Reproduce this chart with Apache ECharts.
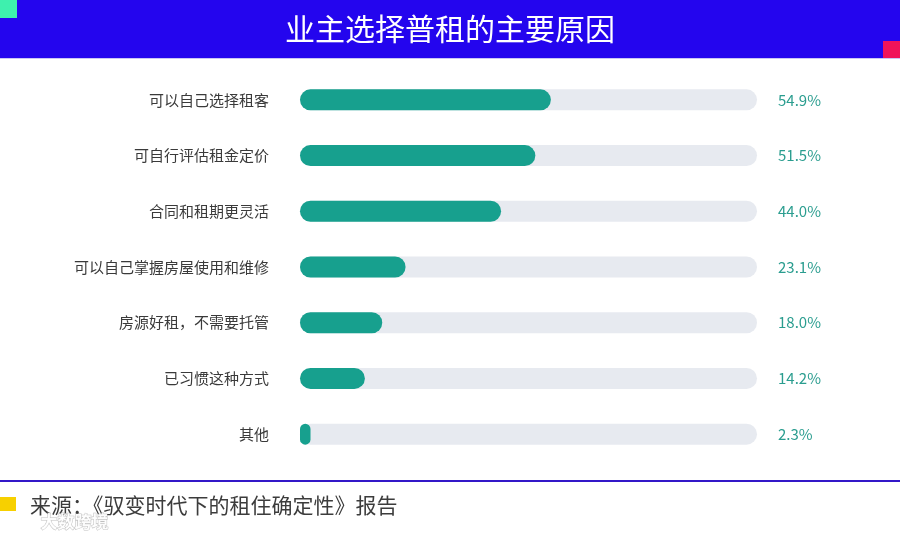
<!DOCTYPE html>
<html>
<head>
<meta charset="utf-8">
<script src="https://cdn.jsdelivr.net/npm/echarts@6/dist/echarts.min.js"></script>
<style>
  html, body { margin: 0; padding: 0; background: #fff; }
  #main { width: 900px; height: 537px; }
</style>
</head>
<body>
<div id="main"></div>
<script>
// 业主选择普租的主要原因
var reasons = ['可以自己选择租客', '可自行评估租金定价', '合同和租期更灵活', '可以自己掌握房屋使用和维修', '房源好租，不需要托管', '已习惯这种方式', '其他'];
var shares = [54.9, 51.5, 44.0, 23.1, 18.0, 14.2, 2.3];
var shareLabels = ['54.9%', '51.5%', '44.0%', '23.1%', '18.0%', '14.2%', '2.3%'];

var titleText = '业主选择普租的主要原因';
var sourceText = '来源：《驭变时代下的租住确定性》报告';

var font = '"Noto Sans CJK SC", "Noto Sans", sans-serif';
var myChart = echarts.init(document.getElementById('main'));
var option = {
    backgroundColor: '#ffffff',
    animation: false,
    grid: {
        left: 300,
        right: 143,
        top: 72,
        bottom: 75
    },
    xAxis: {
        type: 'value',
        min: 0,
        max: 100,
        show: false
    },
    yAxis: [
        {
            type: 'category',
            inverse: true,
            data: reasons,
            axisLine: {show: false},
            axisTick: {show: false},
            axisLabel: {
                margin: 31,
                fontSize: 15,
                color: '#3a3a3a',
                fontFamily: font
            }
        },
        {
            type: 'category',
            inverse: true,
            position: 'right',
            data: shareLabels,
            axisLine: {show: false},
            axisTick: {show: false},
            axisLabel: {
                margin: 21,
                fontSize: 15,
                color: '#2a9d8f',
                fontFamily: font
            }
        }
    ],
    series: [
        {
            name: '占比',
            type: 'bar',
            data: shares,
            barWidth: 21,
            showBackground: true,
            backgroundStyle: {
                color: '#e7eaf0',
                borderRadius: 11
            },
            itemStyle: {
                color: '#17a08e',
                borderRadius: 11
            }
        }
    ],
    graphic: [
        // 顶部横幅
        {type: 'rect', left: 0, top: 0, shape: {width: 900, height: 58}, style: {fill: '#2405ee'}},
        {type: 'rect', left: 0, top: 58, shape: {width: 900, height: 1}, style: {fill: '#c9c6f5'}},
        {type: 'rect', left: 0, top: 0, shape: {width: 17, height: 18}, style: {fill: '#3ef0ae'}},
        {type: 'rect', left: 883, top: 41, shape: {width: 17, height: 17}, style: {fill: '#f0135a'}},
        {type: 'text', left: 'center', top: 14, style: {text: titleText, fill: '#fff', fontSize: 30, fontFamily: font}},
        // 底部来源
        {type: 'rect', left: 0, top: 480, shape: {width: 900, height: 2}, style: {fill: '#3318c8'}},
        {type: 'rect', left: 0, top: 497, shape: {width: 16, height: 14}, style: {fill: '#f7d000'}},
        {type: 'text', left: 30, top: 495, style: {text: sourceText, fill: '#3c3c3c', fontSize: 21, fontFamily: font}},
        {type: 'text', left: 40, top: 513, style: {text: '大数跨境', fill: 'rgba(255,255,255,0.9)', stroke: 'rgba(150,150,150,0.6)', lineWidth: 1, fontSize: 17, fontWeight: 'bold', fontFamily: font}}
    ]
};
myChart.setOption(option);
</script>
</body>
</html>
